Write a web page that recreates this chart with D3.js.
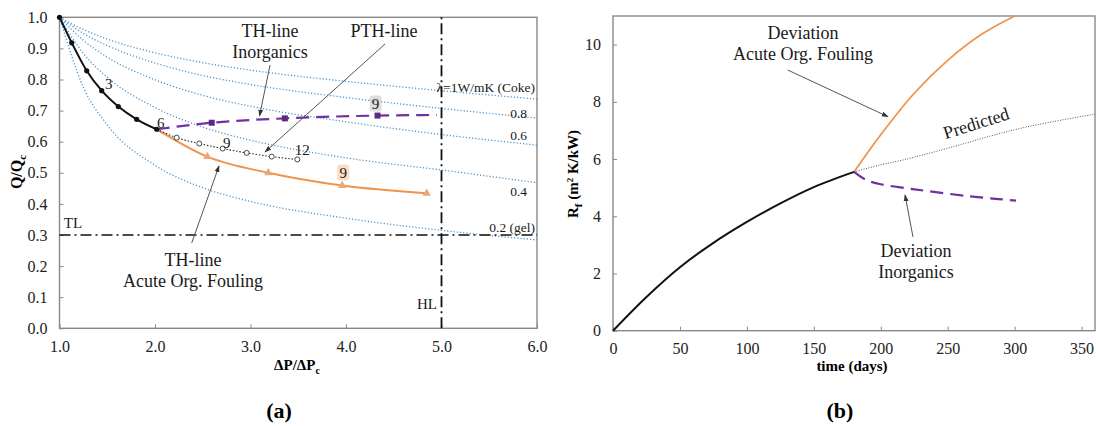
<!DOCTYPE html>
<html>
<head>
<title>Fouling charts</title>
<meta charset="utf-8">
<style type="text/css">
body { margin: 0; background-color: #fff; }
</style>
</head>
<body>
<svg id="chart"></svg>

<script src="https://d3js.org/d3.v7.min.js"></script>
<script type="text/javascript">
const WIDTH = 1096;
const HEIGHT = 426;
const FONT = "'Liberation Serif', 'Times New Roman', 'DejaVu Serif', serif";

// ---- panel (a) data ----
const lamX = [1, 1.25, 1.5, 2, 2.5, 3, 4, 5, 6];
const lamNames = ["λ=1W/mK (Coke)", "0.8", "0.6", "0.4", "0.2 (gel)"];
const lamCoke = [1, 0.961, 0.930, 0.886, 0.854, 0.830, 0.794, 0.764, 0.737];
const lam08 = [1, 0.948, 0.909, 0.853, 0.813, 0.784, 0.742, 0.707, 0.676];
const lam06 = [1, 0.926, 0.872, 0.799, 0.749, 0.714, 0.664, 0.623, 0.589];
const lam04 = [1, 0.884, 0.807, 0.710, 0.647, 0.605, 0.548, 0.509, 0.468];
const lam02 = [1, 0.775, 0.654, 0.524, 0.452, 0.408, 0.354, 0.315, 0.284];

const measX = [1.0, 1.128, 1.285, 1.442, 1.616, 1.808, 2.018];
const measY = [1.0, 0.918, 0.828, 0.764, 0.713, 0.672, 0.640];
const pthX = [2.018, 2.227, 2.464, 2.709, 2.96, 3.222, 3.49];
const pthY = [0.640, 0.613, 0.594, 0.578, 0.564, 0.552, 0.543];
const inorgX = [2.018, 2.594, 3.36, 4.33, 4.95];
const inorgY = [0.640, 0.661, 0.675, 0.684, 0.686];
const orgX = [2.018, 2.548, 3.186, 3.96, 4.845];
const orgY = [0.640, 0.552, 0.500, 0.459, 0.434];
const aTicksX = [1, 2, 3, 4, 5, 6];
const aTicksY = [0, 0.1, 0.2, 0.3, 0.4, 0.5, 0.6, 0.7, 0.8, 0.9, 1.0];
const TL = 0.3;
const HL = 5.0;

// ---- panel (b) data ----
const tPast = [0, 25, 50, 75, 100, 125, 150, 180];
const rfPast = [0, 1.18, 2.22, 3.07, 3.8, 4.45, 5.02, 5.55];
const tPred = [180, 200, 217, 254, 280, 304, 330, 360];
const rfPred = [5.55, 5.8, 5.97, 6.43, 6.78, 7.07, 7.32, 7.57];
const tOrg = [180, 200, 225, 250, 275, 300];
const rfOrg = [5.55, 6.85, 8.3, 9.45, 10.35, 11.05];
const tInorg = [180, 189, 200, 219, 235, 266, 288, 301];
const rfInorg = [5.55, 5.27, 5.12, 4.98, 4.88, 4.70, 4.60, 4.55];
const bTicksX = [0, 50, 100, 150, 200, 250, 300, 350];
const bTicksY = [0, 2, 4, 6, 8, 10];

const BLUE = "#4d94c9";
const ORANGE = "#f0944d";
const PURPLE = "#7030a0";
const GRAY = "#888";

const zip = (xs, ys) => xs.map((x, i) => [x, ys[i]]);

const svg = d3.select("#chart")
    .attr("width", WIDTH)
    .attr("height", HEIGHT)
    .attr("viewBox", [0, 0, WIDTH, HEIGHT])
    .style("font-family", FONT);

// arrow marker
svg.append("defs").append("marker")
    .attr("id", "arrow")
    .attr("viewBox", "0 0 10 10")
    .attr("refX", 9).attr("refY", 5)
    .attr("markerWidth", 7).attr("markerHeight", 7)
    .attr("orient", "auto")
    .append("path")
    .attr("d", "M0,1.5 L10,5 L0,8.5 Z")
    .attr("fill", "#333");

function frame(x, y, ticksX, ticksY, fmtX, fmtY) {
    const [x0, x1] = x.range();
    const [y0, y1] = y.range();
    const tidy = g => {
        g.attr("font-family", null).attr("font-size", null);
        g.select(".domain").remove();
        g.selectAll(".tick line").attr("stroke", GRAY);
        g.selectAll(".tick text").attr("fill", "#222")
            .style("font-family", FONT).style("font-size", "16px");
    };
    svg.append("g")
        .attr("transform", `translate(0,${y0})`)
        .call(d3.axisBottom(x).tickValues(ticksX).tickFormat(fmtX)
            .tickSizeInner(-4).tickSizeOuter(0).tickPadding(12))
        .call(tidy);
    svg.append("g")
        .attr("transform", `translate(${x0},0)`)
        .call(d3.axisLeft(y).tickValues(ticksY).tickFormat(fmtY)
            .tickSizeInner(-4).tickSizeOuter(0).tickPadding(12))
        .call(tidy);
    svg.append("rect")
        .attr("x", x0).attr("y", y1)
        .attr("width", x1 - x0).attr("height", y0 - y1)
        .attr("fill", "none")
        .attr("stroke", GRAY)
        .attr("stroke-width", 1.4);
}

function arrow(x1, y1, x2, y2) {
    svg.append("line")
        .attr("x1", x1).attr("y1", y1).attr("x2", x2).attr("y2", y2)
        .attr("stroke", "#555").attr("stroke-width", 1)
        .attr("marker-end", "url(#arrow)");
}

function label(x, y, lines, size, anchor) {
    const t = svg.append("text")
        .attr("font-size", size)
        .attr("fill", "#1a1a1a")
        .attr("text-anchor", anchor || "middle");
    lines.forEach((s, i) => {
        t.append("tspan").attr("x", x).attr("y", y + i * 21).text(s);
    });
    return t;
}

// ================= panel (a) =================
{
    const x = d3.scaleLinear().domain([1, 6]).range([59.5, 537]);
    const y = d3.scaleLinear().domain([0, 1]).range([328.3, 17.3]);
    frame(x, y, aTicksX, aTicksY, d3.format(".1f"), d3.format(".1f"));

    const smooth = d3.line().x(d => x(d[0])).y(d => y(d[1])).curve(d3.curveMonotoneX);

    // conductivity curves
    const lams = [lamCoke, lam08, lam06, lam04, lam02];
    lams.forEach(vals => {
        svg.append("path").datum(zip(lamX, vals))
            .attr("fill", "none")
            .attr("stroke", BLUE)
            .attr("stroke-width", 1.3)
            .attr("stroke-dasharray", "1.2,2")
            .attr("d", smooth);
    });

    // limits
    svg.append("line")
        .attr("x1", x(1)).attr("x2", x(6)).attr("y1", y(TL)).attr("y2", y(TL))
        .attr("stroke", "#111").attr("stroke-width", 1.6)
        .attr("stroke-dasharray", "11,4,2,4");
    svg.append("line")
        .attr("x1", x(HL)).attr("x2", x(HL)).attr("y1", y(0)).attr("y2", y(1))
        .attr("stroke", "#111").attr("stroke-width", 1.8)
        .attr("stroke-dasharray", "11,4,2,4");

    // lambda labels
    const lamLabelPos = [[535, 92], [527, 118], [527, 140], [527, 196], [535, 232]];
    lamNames.forEach((n, i) => {
        label(lamLabelPos[i][0], lamLabelPos[i][1], [n], 13.5, "end");
    });

    // trend lines
    svg.append("path").datum(zip(orgX, orgY))
        .attr("fill", "none").attr("stroke", ORANGE).attr("stroke-width", 2)
        .attr("d", smooth);
    svg.append("path").datum(zip(inorgX, inorgY))
        .attr("fill", "none").attr("stroke", PURPLE).attr("stroke-width", 2.2)
        .attr("stroke-dasharray", "13,7")
        .attr("d", smooth);
    svg.append("path").datum(zip(pthX, pthY))
        .attr("fill", "none").attr("stroke", "#222").attr("stroke-width", 1.1)
        .attr("stroke-dasharray", "1.5,1.8")
        .attr("d", smooth);
    svg.append("path").datum(zip(measX, measY))
        .attr("fill", "none").attr("stroke", "#111").attr("stroke-width", 2)
        .attr("d", smooth);

    // markers
    svg.append("g").selectAll("circle")
        .data(zip(measX, measY))
        .join("circle")
        .attr("cx", d => x(d[0])).attr("cy", d => y(d[1])).attr("r", 2.6)
        .attr("fill", "#111");
    svg.append("g").selectAll("circle")
        .data(zip(pthX, pthY).slice(1))
        .join("circle")
        .attr("cx", d => x(d[0])).attr("cy", d => y(d[1])).attr("r", 2.5)
        .attr("fill", "#fff").attr("stroke", "#333").attr("stroke-width", 0.9);
    svg.append("g").selectAll("rect")
        .data(zip(inorgX, inorgY).slice(1, 4))
        .join("rect")
        .attr("x", d => x(d[0]) - 3).attr("y", d => y(d[1]) - 3)
        .attr("width", 6).attr("height", 6)
        .attr("fill", "#5b2a86");
    const tri = d3.symbol(d3.symbolTriangle, 30);
    svg.append("g").selectAll("path")
        .data(zip(orgX, orgY).slice(1))
        .join("path")
        .attr("transform", d => `translate(${x(d[0])},${y(d[1])})`)
        .attr("d", tri)
        .attr("fill", "#e9a77a");

    // point numbers
    const num = (px, py, s, dx, dy, bg) => {
        const cx = x(px) + dx, cy = y(py) + dy;
        if (bg) {
            svg.append("rect")
                .attr("x", cx - 6).attr("y", cy - 8)
                .attr("width", 12).attr("height", 16).attr("rx", 3)
                .attr("fill", bg).attr("opacity", 0.6);
        }
        svg.append("text").attr("x", cx).attr("y", cy + 5)
            .attr("text-anchor", "middle").attr("font-size", 15)
            .attr("fill", "#1a1a1a").text(s);
    };
    num(measX[3], measY[3], "3", 7, -7);
    num(measX[6], measY[6], "6", 4, -6);
    num(pthX[3], pthY[3], "9", 4, -6);
    num(pthX[6], pthY[6], "12", 5, -9);
    num(inorgX[3], inorgY[3], "9", -2, -12, "#c8c8c8");
    num(orgX[3], orgY[3], "9", 1, -13, "#f6c79c");

    // annotations
    label(270, 37, ["TH-line", "Inorganics"], 18);
    arrow(270, 65, 259.5, 116);
    label(384, 37, ["PTH-line"], 18);
    arrow(385, 44, 265, 152);
    label(193, 266, ["TH-line", "Acute Org. Fouling"], 18);
    arrow(191.7, 243, 219, 166);
    label(73, 228, ["TL"], 15);
    label(427, 309, ["HL"], 15);

    // axis titles
    const yt = svg.append("text")
        .attr("transform", "translate(22,172) rotate(-90)")
        .attr("text-anchor", "middle").attr("font-size", 16).attr("font-weight", "bold");
    yt.append("tspan").text("Q/Q");
    yt.append("tspan").attr("font-size", 11).attr("dy", 4).text("c");
    const xt = svg.append("text")
        .attr("x", 297).attr("y", 370)
        .attr("text-anchor", "middle").attr("font-size", 15).attr("font-weight", "bold");
    xt.append("tspan").text("ΔP/ΔP");
    xt.append("tspan").attr("font-size", 10).attr("dy", 4).text("c");
}

// ================= panel (b) =================
{
    const x = d3.scaleLinear().domain([0, 360]).range([613, 1095]);
    const y = d3.scaleLinear().domain([0, 11]).range([330.7, 16]);
    frame(x, y, bTicksX, bTicksY, d3.format("d"), d3.format("d"));

    const smooth = d3.line().x(d => x(d[0])).y(d => y(Math.min(d[1], 11)))
        .curve(d3.curveCatmullRom.alpha(0.5));

    svg.append("path").datum(zip(tPred, rfPred))
        .attr("fill", "none").attr("stroke", "#555").attr("stroke-width", 1)
        .attr("stroke-dasharray", "1,1.5")
        .attr("d", smooth);
    svg.append("path").datum(zip(tOrg, rfOrg))
        .attr("fill", "none").attr("stroke", ORANGE).attr("stroke-width", 1.8)
        .attr("d", smooth);
    svg.append("path").datum(zip(tInorg, rfInorg))
        .attr("fill", "none").attr("stroke", PURPLE).attr("stroke-width", 2.2)
        .attr("stroke-dasharray", "13,7")
        .attr("d", smooth);
    svg.append("path").datum(zip(tPast, rfPast))
        .attr("fill", "none").attr("stroke", "#111").attr("stroke-width", 2)
        .attr("d", smooth);

    label(803, 39, ["Deviation", "Acute Org. Fouling"], 18);
    arrow(787.7, 70, 888, 116.7);
    label(916, 257, ["Deviation", "Inorganics"], 18);
    arrow(913, 237, 905, 195);
    svg.append("text")
        .attr("font-size", 18).attr("fill", "#1a1a1a")
        .attr("transform", "translate(978,129) rotate(-17.5)")
        .attr("text-anchor", "middle")
        .text("Predicted");

    const yt = svg.append("text")
        .attr("transform", "translate(578,174) rotate(-90)")
        .attr("text-anchor", "middle").attr("font-size", 15).attr("font-weight", "bold");
    yt.append("tspan").text("R");
    yt.append("tspan").attr("font-size", 11).attr("dy", 4).text("f");
    yt.append("tspan").attr("dy", -4).text(" (m");
    yt.append("tspan").attr("font-size", 9).attr("dy", -5).text("2");
    yt.append("tspan").attr("dy", 5).text(" K/kW)");
    svg.append("text")
        .attr("x", 852).attr("y", 371)
        .attr("text-anchor", "middle").attr("font-size", 15).attr("font-weight", "bold")
        .text("time (days)");
}

// sub-figure captions
svg.append("text").attr("x", 279).attr("y", 418)
    .attr("text-anchor", "middle").attr("font-size", 22).attr("font-weight", "bold")
    .text("(a)");
svg.append("text").attr("x", 840).attr("y", 418)
    .attr("text-anchor", "middle").attr("font-size", 22).attr("font-weight", "bold")
    .text("(b)");
</script>
</body>
</html>
